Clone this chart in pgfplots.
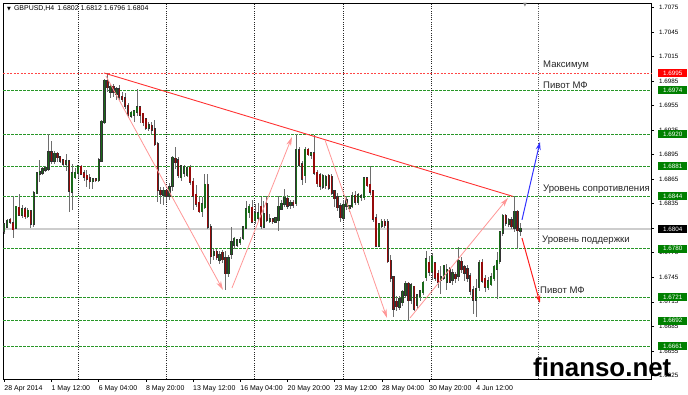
\documentclass[border=0pt]{standalone}
\usepackage{pgfplots}
\pgfplotsset{compat=1.18}
\usepackage{pgfplotstable}
\usepackage{fontspec}
\setmainfont{Liberation Sans}
\newfontfamily\dejavu{DejaVu Sans}
\usetikzlibrary{arrows.meta}

\definecolor{lvlgreen}{RGB}{40,150,40}
\definecolor{boxgreen}{RGB}{0,128,0}
\definecolor{lvlred}{RGB}{255,70,70}
\definecolor{trendred}{RGB}{255,50,50}
\definecolor{zzpink}{RGB}{255,150,150}
\definecolor{arrblue}{RGB}{50,50,255}
\definecolor{arrred}{RGB}{255,30,30}
\definecolor{bullc}{RGB}{25,105,25}
\definecolor{bearc}{RGB}{150,10,10}
\definecolor{wickc}{RGB}{110,110,110}
\definecolor{curgray}{RGB}{205,205,205}

\pgfplotstableread{
i o h l c
0 1.6802 1.6812 1.6798 1.6810
1 1.6807 1.6816 1.6805 1.6814
4 1.6806 1.6832 1.6804 1.6831
6 1.6822 1.6833 1.6818 1.6828
8 1.6820 1.6830 1.6818 1.6826
10 1.6811 1.6850 1.6806 1.6848
11 1.6848 1.6874 1.6847 1.6872
12 1.6872 1.6888 1.6862 1.6874
13 1.6873 1.6880 1.6870 1.6877
14 1.6877 1.6881 1.6874 1.6879
15 1.6878 1.6921 1.6875 1.6898
17 1.6888 1.6900 1.6884 1.6896
21 1.6884 1.6896 1.6875 1.6887
23 1.6850 1.6884 1.6827 1.6872
24 1.6868 1.6879 1.6865 1.6873
25 1.6873 1.6883 1.6866 1.6881
30 1.6863 1.6867 1.6853 1.6865
32 1.6864 1.6891 1.6862 1.6888
33 1.6888 1.6937 1.6886 1.6935
34 1.6935 1.6988 1.6933 1.6985
36 1.6972 1.6982 1.6965 1.6978
38 1.6970 1.6978 1.6962 1.6975
43 1.6943 1.6948 1.6940 1.6946
44 1.6944 1.6950 1.6935 1.6948
45 1.6948 1.6976 1.6942 1.6953
49 1.6928 1.6935 1.6924 1.6931
54 1.6846 1.6855 1.6834 1.6851
56 1.6845 1.6860 1.6840 1.6855
57 1.6857 1.6893 1.6850 1.6891
60 1.6868 1.6882 1.6863 1.6881
61 1.6873 1.6882 1.6868 1.6880
62 1.6870 1.6881 1.6868 1.6879
67 1.6826 1.6843 1.6819 1.6834
68 1.6831 1.6872 1.6829 1.6858
71 1.6772 1.6780 1.6766 1.6776
73 1.6767 1.6777 1.6762 1.6772
76 1.6750 1.6772 1.6745 1.6768
77 1.6774 1.6806 1.6768 1.6788
78 1.6785 1.6795 1.6780 1.6792
79 1.6785 1.6792 1.6782 1.6790
80 1.6788 1.6794 1.6784 1.6791
81 1.6793 1.6808 1.6791 1.6806
82 1.6806 1.6839 1.6804 1.6828
83 1.6825 1.6835 1.6818 1.6831
85 1.6815 1.6835 1.6810 1.6823
86 1.6818 1.6836 1.6814 1.6823
88 1.6807 1.6838 1.6805 1.6822
90 1.6814 1.6822 1.6812 1.6816
92 1.6813 1.6819 1.6811 1.6817
93 1.6815 1.6844 1.6802 1.6831
94 1.6829 1.6840 1.6827 1.6835
95 1.6835 1.6853 1.6831 1.6842
97 1.6834 1.6840 1.6828 1.6836
99 1.6836 1.6920 1.6832 1.6901
102 1.6870 1.6905 1.6860 1.6901
104 1.6895 1.6899 1.6890 1.6897
108 1.6856 1.6872 1.6853 1.6869
109 1.6858 1.6870 1.6853 1.6868
115 1.6818 1.6840 1.6815 1.6834
116 1.6833 1.6845 1.6827 1.6839
117 1.6830 1.6833 1.6825 1.6832
118 1.6832 1.6850 1.6830 1.6845
120 1.6837 1.6848 1.6833 1.6845
121 1.6843 1.6847 1.6838 1.6844
122 1.6843 1.6868 1.6840 1.6866
127 1.6784 1.6812 1.6782 1.6810
128 1.6808 1.6816 1.6806 1.6813
134 1.6709 1.6722 1.6705 1.6718
135 1.6715 1.6730 1.6710 1.6727
136 1.6724 1.6740 1.6720 1.6737
138 1.6718 1.6738 1.6712 1.6735
140 1.6712 1.6725 1.6706 1.6723
141 1.6722 1.6730 1.6716 1.6728
142 1.6727 1.6740 1.6724 1.6738
143 1.6745 1.6777 1.6741 1.6767
145 1.6752 1.6775 1.6742 1.6770
148 1.6742 1.6759 1.6725 1.6745
149 1.6745 1.6760 1.6742 1.6759
150 1.6740 1.6761 1.6730 1.6754
152 1.6742 1.6755 1.6735 1.6750
154 1.6747 1.6782 1.6740 1.6765
160 1.6718 1.6743 1.6697 1.6730
161 1.6733 1.6766 1.6728 1.6763
164 1.6733 1.6745 1.6730 1.6740
165 1.6737 1.6750 1.6734 1.6745
166 1.6744 1.6760 1.6741 1.6758
167 1.6756 1.6776 1.6718 1.6765
168 1.6765 1.6802 1.6762 1.6800
169 1.6800 1.6822 1.6796 1.6820
171 1.6811 1.6818 1.6806 1.6815
173 1.6806 1.6845 1.6800 1.6825
175 1.6802 1.6812 1.6796 1.6804
}\bull

\pgfplotstableread{
i o h l c
2 1.6815 1.6818 1.6810 1.6813
3 1.6811 1.6845 1.6793 1.6804
5 1.6830 1.6847 1.6820 1.6822
7 1.6828 1.6831 1.6817 1.6820
9 1.6826 1.6828 1.6806 1.6811
16 1.6898 1.6912 1.6884 1.6888
18 1.6896 1.6899 1.6886 1.6892
19 1.6892 1.6894 1.6885 1.6888
20 1.6888 1.6890 1.6880 1.6884
22 1.6887 1.6888 1.6825 1.6851
26 1.6880 1.6882 1.6870 1.6872
27 1.6872 1.6876 1.6863 1.6868
28 1.6869 1.6876 1.6855 1.6866
29 1.6866 1.6871 1.6853 1.6863
31 1.6865 1.6867 1.6862 1.6864
35 1.6985 1.6995 1.6972 1.6978
37 1.6978 1.6982 1.6966 1.6972
39 1.6975 1.6980 1.6962 1.6966
40 1.6966 1.6972 1.6960 1.6963
41 1.6964 1.6970 1.6951 1.6955
42 1.6955 1.6958 1.6940 1.6944
46 1.6953 1.6955 1.6934 1.6944
47 1.6945 1.6946 1.6930 1.6935
48 1.6938 1.6940 1.6925 1.6928
50 1.6930 1.6935 1.6920 1.6926
51 1.6926 1.6937 1.6906 1.6908
52 1.6908 1.6910 1.6837 1.6852
53 1.6851 1.6855 1.6835 1.6847
55 1.6851 1.6852 1.6837 1.6845
58 1.6890 1.6904 1.6878 1.6886
59 1.6888 1.6892 1.6866 1.6870
63 1.6879 1.6882 1.6858 1.6862
64 1.6862 1.6866 1.6827 1.6845
65 1.6846 1.6858 1.6831 1.6835
66 1.6836 1.6843 1.6824 1.6826
69 1.6858 1.6872 1.6804 1.6807
70 1.6806 1.6810 1.6762 1.6771
72 1.6776 1.6780 1.6766 1.6770
74 1.6775 1.6778 1.6763 1.6767
75 1.6768 1.6777 1.6730 1.6750
84 1.6830 1.6840 1.6812 1.6813
87 1.6831 1.6843 1.6804 1.6808
89 1.6835 1.6845 1.6813 1.6816
91 1.6816 1.6818 1.6810 1.6814
96 1.6841 1.6846 1.6829 1.6833
98 1.6836 1.6840 1.6830 1.6834
100 1.6900 1.6904 1.6880 1.6883
101 1.6883 1.6888 1.6858 1.6866
103 1.6901 1.6903 1.6893 1.6896
105 1.6897 1.6919 1.6870 1.6873
106 1.6873 1.6876 1.6855 1.6860
107 1.6870 1.6873 1.6852 1.6857
110 1.6869 1.6871 1.6852 1.6855
111 1.6868 1.6871 1.6846 1.6849
112 1.6850 1.6852 1.6831 1.6842
113 1.6843 1.6848 1.6826 1.6831
114 1.6832 1.6836 1.6813 1.6819
119 1.6845 1.6851 1.6834 1.6838
123 1.6866 1.6868 1.6855 1.6858
124 1.6858 1.6881 1.6846 1.6850
125 1.6850 1.6851 1.6813 1.6817
126 1.6817 1.6822 1.6782 1.6784
129 1.6813 1.6816 1.6806 1.6809
130 1.6812 1.6816 1.6762 1.6765
131 1.6765 1.6772 1.6739 1.6745
132 1.6745 1.6747 1.6697 1.6707
133 1.6715 1.6722 1.6704 1.6710
137 1.6737 1.6739 1.6692 1.6717
139 1.6733 1.6735 1.6704 1.6707
144 1.6763 1.6771 1.6747 1.6752
146 1.6762 1.6764 1.6741 1.6745
147 1.6749 1.6754 1.6732 1.6740
151 1.6755 1.6758 1.6738 1.6740
153 1.6748 1.6752 1.6738 1.6744
155 1.6764 1.6770 1.6750 1.6755
156 1.6757 1.6760 1.6740 1.6751
157 1.6755 1.6760 1.6739 1.6745
158 1.6746 1.6750 1.6723 1.6729
159 1.6729 1.6735 1.6700 1.6718
162 1.6763 1.6767 1.6738 1.6741
163 1.6743 1.6748 1.6727 1.6734
170 1.6820 1.6823 1.6808 1.6812
172 1.6815 1.6819 1.6804 1.6808
174 1.6825 1.6828 1.6780 1.6803
}\bear

\tikzset{
  lvlg/.style={lvlgreen, line width=0.8bp, dash pattern=on 2.5bp off 1.5bp},
  sep/.style={black!85, line width=1bp, dash pattern=on 1bp off 1.2bp},
  zz/.style={zzpink, line width=0.8bp, -{Stealth[length=9bp,width=5bp]}},
  lab/.style={anchor=west, inner sep=0pt, font=\fontsize{9.6}{11}\selectfont, text=black!85},
  pbox/.style={anchor=west, inner sep=0pt, minimum width=29bp, minimum height=8bp, text=white, font=\fontsize{6.3}{7}\selectfont},
}

\begin{document}
\begin{tikzpicture}
\begin{axis}[
  at={(0,0)}, anchor=south west,
  scale only axis, width=648bp, height=376bp,
  xmin=-0.424, xmax=219.24, ymin=1.66206, ymax=1.70806,
  clip=false,
  axis line style={black, line width=0.8bp},
  tick align=outside, major tick length=3bp,
  tick style={black, line width=0.6bp},
  xtick pos=bottom, ytick pos=right, yticklabel pos=right,
  xtick={0,16,32,48,64,80,96,112,128,144,160},
  xticklabels={28 Apr 2014, 1 May 12:00, 6 May 04:00, 8 May 20:00, 13 May 12:00, 16 May 04:00, 20 May 20:00, 23 May 12:00, 28 May 04:00, 30 May 20:00, 4 Jun 12:00},
  xticklabel style={font=\fontsize{7}{8}\selectfont, anchor=north west, inner sep=0pt, yshift=-3bp},
  ytick={1.6625,1.6655,1.6685,1.6715,1.6745,1.6775,1.6805,1.6835,1.6865,1.6895,1.6925,1.6955,1.6985,1.7015,1.7045,1.7075},
  scaled y ticks=false,
  yticklabel style={font=\fontsize{6.3}{7}\selectfont, anchor=west, inner sep=0pt, xshift=5bp, /pgf/number format/.cd, fixed, fixed zerofill, precision=4, assume math mode=true},
]
% current price line
\addplot[curgray, line width=1.6bp] coordinates {(-0.424,1.6804) (219.24,1.6804)};
% levels
\addplot[lvlred, line width=0.8bp, dash pattern=on 2bp off 1.5bp] coordinates {(-0.424,1.6995) (219.24,1.6995)};
\addplot[lvlg] coordinates {(-0.424,1.6974) (219.24,1.6974)};
\addplot[lvlg] coordinates {(-0.424,1.6920) (219.24,1.6920)};
\addplot[lvlg] coordinates {(-0.424,1.6881) (219.24,1.6881)};
\addplot[lvlg] coordinates {(-0.424,1.6844) (219.24,1.6844)};
\addplot[lvlg] coordinates {(-0.424,1.6780) (219.24,1.6780)};
\addplot[lvlg] coordinates {(-0.424,1.6721) (219.24,1.6721)};
\addplot[lvlg] coordinates {(-0.424,1.6692) (219.24,1.6692)};
\addplot[lvlg] coordinates {(-0.424,1.6661) (219.24,1.6661)};
% week separators and target line
\addplot[sep] coordinates {(25,1.66206) (25,1.70806)};
\addplot[sep] coordinates {(55,1.66206) (55,1.70806)};
\addplot[sep] coordinates {(85,1.66206) (85,1.70806)};
\addplot[sep] coordinates {(115,1.66206) (115,1.70806)};
\addplot[sep] coordinates {(145,1.66206) (145,1.70806)};
\addplot[sep, black!65] coordinates {(181.27,1.66206) (181.27,1.70806)};
% candles: wicks
\addplot[draw=none, mark=none, error bars/.cd, y dir=both, y explicit, error mark=none,
  error bar style={draw=wickc, line width=0.75bp}]
  table[x=i, y expr={(\thisrow{h}+\thisrow{l})/2}, y error expr={(\thisrow{h}-\thisrow{l})/2}] {\bull};
\addplot[draw=none, mark=none, error bars/.cd, y dir=both, y explicit, error mark=none,
  error bar style={draw=wickc, line width=0.75bp}]
  table[x=i, y expr={(\thisrow{h}+\thisrow{l})/2}, y error expr={(\thisrow{h}-\thisrow{l})/2}] {\bear};
% candles: body outlines
\addplot[draw=none, mark=none, error bars/.cd, y dir=both, y explicit, error mark=none,
  error bar style={draw=black!80, line width=2.3bp, line cap=rect}]
  table[x=i, y expr={(\thisrow{o}+\thisrow{c})/2}, y error expr={abs(\thisrow{c}-\thisrow{o})/2}] {\bull};
\addplot[draw=none, mark=none, error bars/.cd, y dir=both, y explicit, error mark=none,
  error bar style={draw=black!80, line width=2.3bp, line cap=rect}]
  table[x=i, y expr={(\thisrow{o}+\thisrow{c})/2}, y error expr={abs(\thisrow{c}-\thisrow{o})/2}] {\bear};
% candles: body fills
\addplot[draw=none, mark=none, error bars/.cd, y dir=both, y explicit, error mark=none,
  error bar style={draw=bullc, line width=1.3bp, line cap=rect}]
  table[x=i, y expr={(\thisrow{o}+\thisrow{c})/2}, y error expr={abs(\thisrow{c}-\thisrow{o})/2}] {\bull};
\addplot[draw=none, mark=none, error bars/.cd, y dir=both, y explicit, error mark=none,
  error bar style={draw=bearc, line width=1.3bp, line cap=rect}]
  table[x=i, y expr={(\thisrow{o}+\thisrow{c})/2}, y error expr={abs(\thisrow{c}-\thisrow{o})/2}] {\bear};
% trend line
\addplot[trendred, line width=0.9bp] coordinates {(33.81,1.6995) (172.46,1.6844)};
% zigzag arrows
\addplot[zz] coordinates {(34.49,1.69913) (74.15,1.67295)};
\addplot[zz] coordinates {(77.20,1.67320) (97.54,1.69167)};
\addplot[zz] coordinates {(108.73,1.69130) (129.75,1.66953)};
\addplot[zz] coordinates {(137.54,1.66953) (170.76,1.68421)};
% forecast arrows
\addplot[arrblue, line width=1bp, -{Stealth[length=8bp,width=5bp]}] coordinates {(175.5,1.68152) (181.6,1.69106)};
\addplot[arrred, line width=1bp, -{Stealth[length=8bp,width=5bp]}] coordinates {(175.5,1.67931) (181.6,1.67136)};
% labels
\node[lab] at (axis cs:182.63,1.70048) {Максимум};
\node[lab] at (axis cs:182.63,1.69803) {Пивот МФ};
\node[lab] at (axis cs:182.63,1.68531) {Уровень сопротивления};
\node[lab] at (axis cs:182.29,1.67907) {Уровень поддержки};
\node[lab] at (axis cs:181.61,1.67295) {Пивот МФ};
% anchors for price boxes
\coordinate (L1) at (axis cs:219.24,1.6995);
\coordinate (L2) at (axis cs:219.24,1.6974);
\coordinate (L3) at (axis cs:219.24,1.6920);
\coordinate (L4) at (axis cs:219.24,1.6881);
\coordinate (L5) at (axis cs:219.24,1.6844);
\coordinate (L6) at (axis cs:219.24,1.6804);
\coordinate (L7) at (axis cs:219.24,1.6780);
\coordinate (L8) at (axis cs:219.24,1.6721);
\coordinate (L9) at (axis cs:219.24,1.6692);
\coordinate (L10) at (axis cs:219.24,1.6661);
\end{axis}
\node[pbox, fill=red] at ([xshift=7bp]L1) {1.6995};
\node[pbox, fill=boxgreen] at ([xshift=7bp]L2) {1.6974};
\node[pbox, fill=boxgreen] at ([xshift=7bp]L3) {1.6920};
\node[pbox, fill=boxgreen] at ([xshift=7bp]L4) {1.6881};
\node[pbox, fill=boxgreen] at ([xshift=7bp]L5) {1.6844};
\node[pbox, fill=black] at ([xshift=7bp]L6) {1.6804};
\node[pbox, fill=boxgreen] at ([xshift=7bp]L7) {1.6780};
\node[pbox, fill=boxgreen] at ([xshift=7bp]L8) {1.6721};
\node[pbox, fill=boxgreen] at ([xshift=7bp]L9) {1.6692};
\node[pbox, fill=boxgreen] at ([xshift=7bp]L10) {1.6661};
% title
\node[anchor=west, inner sep=0pt, font=\fontsize{7}{8}\selectfont] at (4bp,370bp) {{\dejavu\fontsize{5}{6}\selectfont ▼}\hspace{3bp}GBPUSD,H4\hspace{3bp}1.6802 1.6812 1.6796 1.6804};
% chart shift marker
\node[inner sep=0pt, text=gray, font=\dejavu\fontsize{5}{6}\selectfont] at (522bp,374bp) {▼};
% watermark
\node[anchor=base west, inner sep=0pt, font=\bfseries\fontsize{26}{30}\selectfont] at (530bp,3bp) {finanso.net};
\pgfresetboundingbox
\path[use as bounding box] (-3bp,-16bp) rectangle (685bp,379bp);
\end{tikzpicture}
\end{document}
